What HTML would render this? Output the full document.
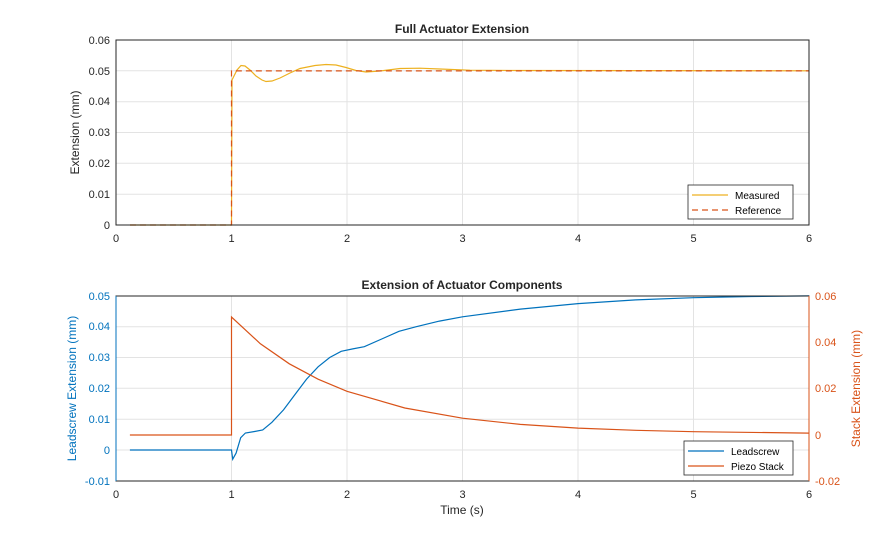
<!DOCTYPE html>
<html><head><meta charset="utf-8"><style>
body{margin:0;background:#fff}
svg text{font-family:"Liberation Sans",Arial,sans-serif;font-size:11px}
</style></head><body>
<svg width="895" height="540" viewBox="0 0 895 540" xmlns="http://www.w3.org/2000/svg">
<rect width="895" height="540" fill="#fff"/>
<!-- TOP -->
<g stroke="#e3e3e3" stroke-width="1">
<line x1="231.5" y1="40" x2="231.5" y2="225"/><line x1="347" y1="40" x2="347" y2="225"/><line x1="462.5" y1="40" x2="462.5" y2="225"/><line x1="578" y1="40" x2="578" y2="225"/><line x1="693.5" y1="40" x2="693.5" y2="225"/>
<line x1="116" y1="194.2" x2="809" y2="194.2"/><line x1="116" y1="163.3" x2="809" y2="163.3"/><line x1="116" y1="132.5" x2="809" y2="132.5"/><line x1="116" y1="101.7" x2="809" y2="101.7"/><line x1="116" y1="70.8" x2="809" y2="70.8"/>
</g>
<polyline fill="none" stroke="#EDB120" stroke-width="1.2" points="130,225 231.5,225 232,80 234,76 237,70 241,65.5 245,66 250,70 256,76 262,80 266,81.5 272,81 280,78 290,73 300,68.5 315,65.5 326,64.5 336,65 346,67.5 356,70.5 366,72 380,71 400,68.5 420,68.2 440,69 470,70.2 520,70.5 809,70.8"/>
<polyline fill="none" stroke="#D95319" stroke-width="1.2" stroke-dasharray="6,4" points="130,225 231.5,225 231.5,70.85 809,70.85"/>
<rect x="116" y="40" width="693" height="185" fill="none" stroke="#262626" stroke-width="1"/>
<g fill="#262626" text-anchor="end">
<text x="110" y="229">0</text><text x="110" y="198">0.01</text><text x="110" y="167">0.02</text><text x="110" y="136">0.03</text><text x="110" y="105">0.04</text><text x="110" y="75">0.05</text><text x="110" y="44">0.06</text>
</g>
<g fill="#262626" text-anchor="middle">
<text x="116" y="242">0</text><text x="231.5" y="242">1</text><text x="347" y="242">2</text><text x="462.5" y="242">3</text><text x="578" y="242">4</text><text x="693.5" y="242">5</text><text x="809" y="242">6</text>
<text x="462" y="33" font-weight="bold" style="font-size:12px">Full Actuator Extension</text>
<text transform="translate(79,132.5) rotate(-90)" style="font-size:12px">Extension (mm)</text>
</g>
<rect x="688" y="185" width="105" height="34" fill="#fff" stroke="#262626" stroke-width="0.8"/>
<line x1="692" y1="195" x2="728" y2="195" stroke="#EDB120" stroke-width="1.2"/>
<line x1="692" y1="210" x2="728" y2="210" stroke="#D95319" stroke-width="1.2" stroke-dasharray="6,4"/>
<text x="735" y="199" fill="#000" style="font-size:10px">Measured</text>
<text x="735" y="214" fill="#000" style="font-size:10px">Reference</text>

<!-- BOTTOM -->
<g stroke="#e3e3e3" stroke-width="1">
<line x1="231.5" y1="296" x2="231.5" y2="481"/><line x1="347" y1="296" x2="347" y2="481"/><line x1="462.5" y1="296" x2="462.5" y2="481"/><line x1="578" y1="296" x2="578" y2="481"/><line x1="693.5" y1="296" x2="693.5" y2="481"/>
<line x1="116" y1="450" x2="809" y2="450"/><line x1="116" y1="419.2" x2="809" y2="419.2"/><line x1="116" y1="388.3" x2="809" y2="388.3"/><line x1="116" y1="357.5" x2="809" y2="357.5"/><line x1="116" y1="326.7" x2="809" y2="326.7"/>
</g>
<polyline fill="none" stroke="#0072BD" stroke-width="1.2" points="129.9,450 231.5,450 232.7,459.2 236.1,453.1 240.7,437.7 245.4,433 254.6,431.5 262.7,430 271.9,422.3 283.5,409.9 295,394.5 306.6,379.1 318.1,366.8 329.7,357.5 341.2,351.3 352.8,348.9 364.3,346.7 381.7,339 399,331.3 416.3,326.7 439.4,321.1 462.5,316.8 520.3,309.1 578,303.6 635.8,299.9 693.5,297.7 751.3,296.5 809,295.9"/>
<polyline fill="none" stroke="#D95319" stroke-width="1.2" points="129.9,435 231.5,435 231.5,317 260.4,343.8 289.3,363.8 318.1,379.2 347,391.3 404.8,408 462.5,418.2 520.3,424.4 578,428.1 635.8,430.3 693.5,431.7 809,433.1"/>
<rect x="116" y="296" width="693" height="185" fill="none" stroke="#262626" stroke-width="1"/>
<line x1="116" y1="296" x2="116" y2="481" stroke="#0072BD"/>
<line x1="809" y1="296" x2="809" y2="481" stroke="#D95319"/>
<g fill="#0072BD" text-anchor="end">
<text x="110" y="485">-0.01</text><text x="110" y="454">0</text><text x="110" y="423">0.01</text><text x="110" y="392">0.02</text><text x="110" y="361">0.03</text><text x="110" y="330">0.04</text><text x="110" y="300">0.05</text>
</g>
<g fill="#D95319" text-anchor="start">
<text x="815" y="485">-0.02</text><text x="815" y="439">0</text><text x="815" y="392">0.02</text><text x="815" y="346">0.04</text><text x="815" y="300">0.06</text>
</g>
<g fill="#262626" text-anchor="middle">
<text x="116" y="498">0</text><text x="231.5" y="498">1</text><text x="347" y="498">2</text><text x="462.5" y="498">3</text><text x="578" y="498">4</text><text x="693.5" y="498">5</text><text x="809" y="498">6</text>
<text x="462" y="514" style="font-size:12px">Time (s)</text>
<text x="462" y="289" font-weight="bold" style="font-size:12px">Extension of Actuator Components</text>
</g>
<text transform="translate(76,388.5) rotate(-90)" text-anchor="middle" fill="#0072BD" style="font-size:12px">Leadscrew Extension (mm)</text>
<text transform="translate(860,388.5) rotate(-90)" text-anchor="middle" fill="#D95319" style="font-size:12px">Stack Extension (mm)</text>
<rect x="684" y="441" width="109" height="34" fill="#fff" stroke="#262626" stroke-width="0.8"/>
<line x1="688" y1="451" x2="724" y2="451" stroke="#0072BD" stroke-width="1.2"/>
<line x1="688" y1="466" x2="724" y2="466" stroke="#D95319" stroke-width="1.2"/>
<text x="731" y="455" fill="#000" style="font-size:10px">Leadscrew</text>
<text x="731" y="470" fill="#000" style="font-size:10px">Piezo Stack</text>
</svg>
</body></html>
